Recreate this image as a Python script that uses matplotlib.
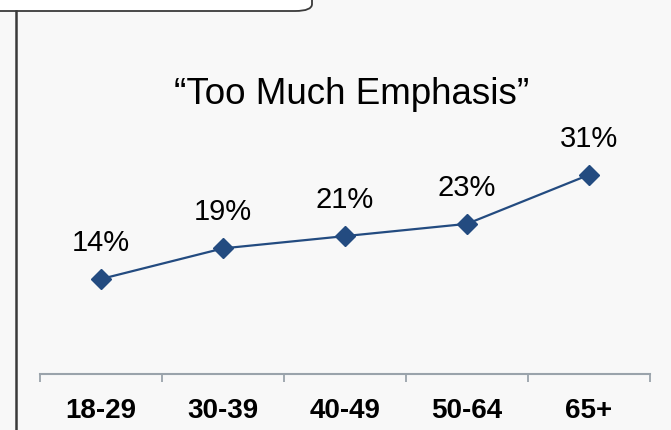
import matplotlib
matplotlib.use("Agg")
import matplotlib.pyplot as plt
from matplotlib.patches import FancyBboxPatch
from matplotlib.lines import Line2D

# Chart data
age_groups = ["18-29", "30-39", "40-49", "50-64", "65+"]
too_much_pct = [14, 19, 21, 23, 31]
title_text = "\u201cToo Much Emphasis\u201d"

W, H = 671, 430
fig = plt.figure(figsize=(W / 100, H / 100), dpi=100)
fig.patch.set_facecolor("#f8f8f8")
plt.rcParams["font.family"] = ["Liberation Sans", "DejaVu Sans"]


def fx(px):
    return px / W


def fy(py):
    return 1 - py / H


# Frame decoration: rounded box at top and vertical rule on the left
box = FancyBboxPatch((fx(-20), fy(11)), fx(332), 0.1,
                     boxstyle="round,pad=0,rounding_size=0.025",
                     transform=fig.transFigure, facecolor="white",
                     edgecolor="#3a3a3a", linewidth=1.3, mutation_aspect=H / W)
fig.patches.append(box)
fig.add_artist(Line2D([fx(16), fx(16)], [fy(11), 0], transform=fig.transFigure,
                      color="#3a3a3a", linewidth=1.8))

# Axes placed so the category axis runs from x=40 to x=650 px
ax = fig.add_axes([fx(40), fy(374), fx(650) - fx(40), fy(40) - fy(374)])
ax.set_facecolor("none")
ax.set_xlim(-0.5, len(age_groups) - 0.5)
ax.set_ylim(-1.5, 53)

x = list(range(len(age_groups)))
ax.plot(x, too_much_pct, color="#234b80", linewidth=1.6, marker="D",
        markersize=10, markerfacecolor="#234b80", markeredgecolor="#234b80")

for xi, v in zip(x, too_much_pct):
    ax.annotate(f"{v}%", (xi, v), xytext=(0, 26), textcoords="offset points",
                ha="center", va="center", fontsize=21, color="black")

for side in ["top", "right", "left"]:
    ax.spines[side].set_visible(False)
ax.spines["bottom"].set_color("#9aa3ab")
ax.spines["bottom"].set_linewidth(1.5)
ax.set_yticks([])
ax.set_xticks([i - 0.5 for i in range(len(age_groups) + 1)])
ax.set_xticklabels([])
ax.tick_params(axis="x", length=6, width=1.3, color="#9aa3ab", direction="out")
ax.set_xticks(x, minor=True)
ax.set_xticklabels(age_groups, minor=True, fontsize=20, fontweight="bold")
ax.tick_params(axis="x", which="minor", length=0, pad=17)

fig.text(fx(352), fy(95), title_text, ha="center", va="center", fontsize=26.5,
         color="black")

plt.savefig("out.png", dpi=100, facecolor=fig.get_facecolor())
